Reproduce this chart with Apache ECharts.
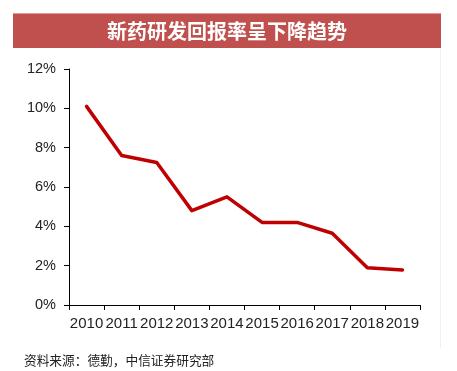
<!DOCTYPE html>
<html>
<head>
<meta charset="utf-8">
<script src="https://cdn.jsdelivr.net/npm/echarts@6/dist/echarts.min.js"></script>
<style>
html,body{margin:0;padding:0;background:#fff;}
#c{width:457px;height:371px;}
</style>
</head>
<body>
<div id="c"></div>
<script>
var titleText = '新药研发回报率呈下降趋势';
var sourceText = '资料来源：德勤，中信证券研究部';
var years = ['2010','2011','2012','2013','2014','2015','2016','2017','2018','2019'];
var returnRate = [10.1, 7.6, 7.25, 4.8, 5.5, 4.2, 4.2, 3.65, 1.9, 1.78];
var yTicks = [0, 2, 4, 6, 8, 10, 12];

var chart = echarts.init(document.getElementById('c'), null, {renderer:'canvas'});
chart.setOption({
  animation: false,
  backgroundColor: '#fff',
  graphic: [
    {type:'rect', shape:{x:13, y:13, width:428, height:35}, style:{fill:'#c0504d'}},
    {type:'rect', shape:{x:13, y:13, width:428, height:1}, style:{fill:'#e49a98'}},
    {type:'rect', shape:{x:440, y:48, width:1, height:300}, style:{fill:'#f0f0f0'}},
    {type:'text', x:227, y:31, style:{text:titleText, fill:'#fff', font:'bold 20px "Noto Sans CJK SC"', textAlign:'center', textVerticalAlign:'middle'}},
    {type:'text', x:24, y:360, style:{text:sourceText, fill:'#222', font:'12.7px "Noto Sans CJK SC"', textAlign:'left', textVerticalAlign:'middle'}}
  ],
  grid: {left:69, right:37, top:69, bottom:66, containLabel:false},
  xAxis: {
    type:'category',
    data: years,
    boundaryGap: true,
    axisLine: {lineStyle:{color:'#000', width:1}},
    axisTick: {show:true, length:5, lineStyle:{color:'#000'}},
    axisLabel: {color:'#222', fontSize:15, fontFamily:'"Liberation Sans", Arial', margin:11, interval:0}
  },
  yAxis: {
    type:'value',
    min: yTicks[0],
    max: yTicks[yTicks.length-1],
    interval: 2,
    axisLine: {show:true, lineStyle:{color:'#000', width:1}},
    axisTick: {show:true, inside:false, length:5, lineStyle:{color:'#000'}},
    splitLine: {show:false},
    axisLabel: {color:'#222', fontSize:14.5, fontFamily:'"Liberation Sans", Arial', margin:13, formatter:function(v){return v+'%';}}
  },
  series: [{
    type:'line',
    data: returnRate,
    symbol:'none',
    lineStyle:{color:'#c00000', width:3.5, cap:'round', join:'round'}
  }]
});
</script>
</body>
</html>
